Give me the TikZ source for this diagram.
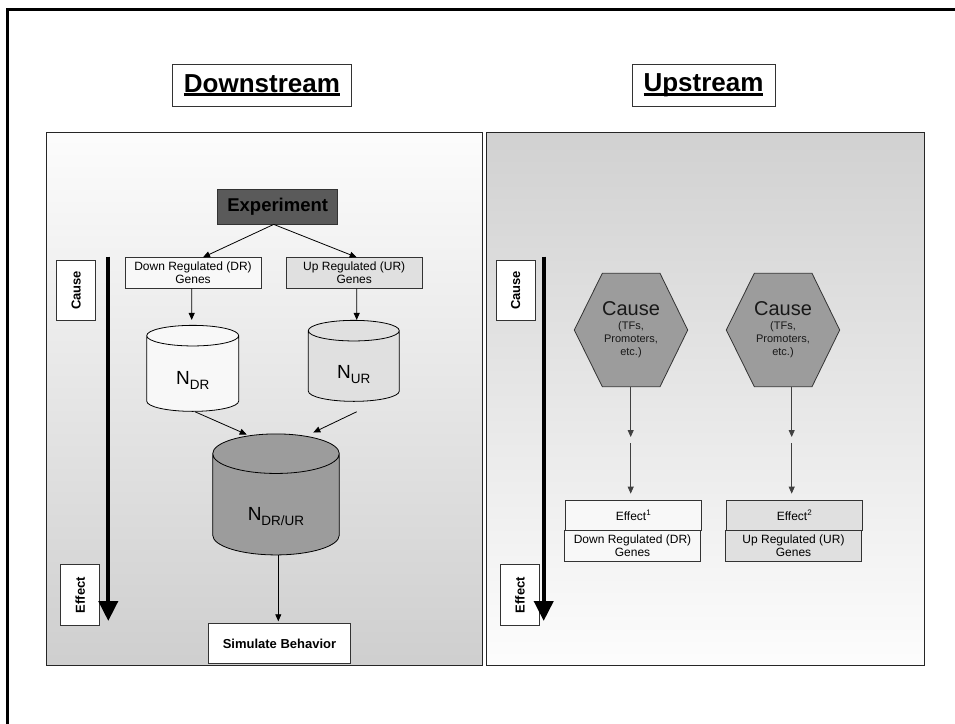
\documentclass[tikz,border=0pt]{standalone}
\usepackage{fontspec}
\setmainfont{Liberation Sans}
\usetikzlibrary{arrows.meta,shapes.geometric,calc}

% heading underline: a heavy rule just under the baseline
\newcommand\headul[1]{\setbox0\hbox{#1}\rlap{\raisebox{-4pt}{\rule{\wd0}{3pt}}}\box0}
% N with a lowered index
\newcommand\netname[1]{N\raisebox{-5pt}{\fontsize{13.5}{14}\selectfont #1}}

\definecolor{expfill}{HTML}{5A5A5A}
\definecolor{midgray}{HTML}{9C9C9C}
\definecolor{lightgray}{HTML}{E0E0E0}
\definecolor{offwhite}{HTML}{F8F8F8}
\definecolor{edge}{HTML}{333333}

\begin{document}
\begin{tikzpicture}[x=1pt,y=-1pt,
  box/.style={draw=edge, line width=0.8pt, inner sep=0pt, align=center},
  genebox/.style={box, minimum width=136pt, minimum height=30.6pt,
    font=\fontsize{12}{13.3}\selectfont},
  sidelabel/.style={box, fill=white, rotate=90, minimum width=60.5pt,
    minimum height=39pt, font=\bfseries\fontsize{13}{14}\selectfont},
  cyl/.style={cylinder, shape border rotate=90, draw=black, line width=0.8pt,
    cylinder uses custom fill, inner sep=0pt, text depth=6pt,
    font=\fontsize{19}{20}\selectfont},
  link/.style={line width=0.8pt, -{Triangle[length=7pt,width=6pt]}},
  hexlink/.style={link, draw=black!75},
  timeline/.style={line width=4pt, -{Triangle[length=20pt,width=19pt]}},
  hexshape/.style={fill=midgray, draw=edge, line width=0.8pt},
  hexnode/.style={inner sep=0pt, minimum width=113.4pt, minimum height=113.4pt,
    align=center, text=black!90, font=\fontsize{11}{13}\selectfont}
]
\useasboundingbox (0,0) rectangle (955,723);
\clip (0,0) rectangle (955,723);
\fill[white] (0,0) rectangle (955,723);

% outer frame
\draw[line width=3pt] (7,9) rectangle (975,745);

% the two panels
\draw[draw=black!85, line width=0.8pt, top color=white!99!black, bottom color=black!19]
  (46.3,132) rectangle (482.5,665.5);
\draw[draw=black!85, line width=0.8pt, top color=black!18, bottom color=white!99!black]
  (486.7,132) rectangle (924.3,665.5);

% headings
\node[box, fill=white, minimum width=179.7pt, minimum height=42pt,
  font=\bfseries\fontsize{26}{28}\selectfont] (down) at (261.9,85.3) {\headul{Downstream}};
\node[box, fill=white, minimum width=143pt, minimum height=42pt,
  font=\bfseries\fontsize{26}{28}\selectfont] (up) at (703.5,85.3) {\headul{Upstream}};

% ---------------- downstream panel ----------------
\node[sidelabel] (causeL) at (76.2,290.3) {Cause};
\node[sidelabel] (effectL) at (80.3,595) {Effect};
\coordinate (tlLtop) at (108.3,256.7);
\coordinate (tlLbot) at (108.3,621);
\draw[timeline] (tlLtop) -- (tlLbot);

\node[box, fill=expfill, minimum width=120pt, minimum height=35pt,
  font=\bfseries\fontsize{18.5}{20}\selectfont] (exp) at (277.7,206.5) {Experiment};

\node[genebox, fill=offwhite] (dr) at (193,273) {Down Regulated (DR)\\Genes};
\node[genebox, fill=lightgray] (ur) at (354.2,273) {Up Regulated (UR)\\Genes};

\node[cyl, cylinder body fill=offwhite, cylinder end fill=offwhite, text height=27pt,
  minimum width=92pt, minimum height=86pt, aspect=0.62] (ndr) at (192.7,373.7) {\netname{DR}};
\node[cyl, cylinder body fill=lightgray, cylinder end fill=lightgray, text height=31pt,
  minimum width=91pt, minimum height=81pt, aspect=0.62] (nur) at (353.8,366.2) {\netname{UR}};
\node[cyl, cylinder body fill=midgray, cylinder end fill=midgray, text height=38pt,
  minimum width=126.6pt, minimum height=121pt, aspect=0.7] (nall) at (276,504.5) {\netname{DR/UR}};

\node[box, fill=white, minimum width=141.6pt, minimum height=39.6pt,
  font=\bfseries\fontsize{13}{14}\selectfont] (sim) at (279.5,643.5) {Simulate Behavior};

\draw[link] ([xshift=-4pt]exp.south) -- ([xshift=10pt]dr.north);
\draw[link] ([xshift=-4pt]exp.south) -- ([xshift=2.5pt]ur.north);
\draw[link, shorten >=5pt] ([xshift=-1.3pt]dr.south) -- ([xshift=-1pt]ndr.north);
\draw[link] ([xshift=2.5pt]ur.south) -- ([xshift=2.9pt]nur.north);
\draw[link] ([xshift=2.3pt]ndr.south) -- ([xshift=-29.3pt,yshift=-1pt]nall.north);
\draw[link] ([xshift=2.9pt,yshift=-10pt]nur.south) -- ([xshift=37.3pt,yshift=1pt]nall.north);
\draw[link] ([xshift=2.3pt]nall.south) -- ([xshift=-1.2pt,yshift=2pt]sim.north);

% ---------------- upstream panel ----------------
\node[sidelabel] (causeR) at (515.7,290.3) {Cause};
\node[sidelabel] (effectR) at (520,595) {Effect};
\coordinate (tlRtop) at (543.7,256.7);
\coordinate (tlRbot) at (543.7,621);
\draw[timeline] (tlRtop) -- (tlRbot);

% hexagonal cause shapes
\foreach \cx in {631,783}{
  \draw[hexshape] (\cx-56.7,330) -- (\cx-28.7,273.3) -- (\cx+29,273.3)
    -- (\cx+56.7,330) -- (\cx+29,386.7) -- (\cx-28.7,386.7) -- cycle;
}
\node[hexnode] (h1) at (631,330)
  {{\fontsize{20}{20}\selectfont Cause}\\[1pt](TFs,\\Promoters,\\etc.)};
\node[hexnode] (h2) at (783,330)
  {{\fontsize{20}{20}\selectfont Cause}\\[1pt](TFs,\\Promoters,\\etc.)};

\node[genebox, fill=offwhite, minimum width=136.4pt, minimum height=30.3pt] (e1) at (633.5,515.2)
  {Effect\textsuperscript{1}};
\node[genebox, fill=offwhite, minimum width=136.4pt, minimum height=30.7pt] (g1) at (632.5,545.7)
  {Down Regulated (DR)\\Genes};
\node[genebox, fill=lightgray, minimum width=136.4pt, minimum height=30.3pt] (e2) at (794.5,515.2)
  {Effect\textsuperscript{2}};
\node[genebox, fill=lightgray, minimum width=136.4pt, minimum height=30.7pt] (g2) at (793.5,545.7)
  {Up Regulated (UR)\\Genes};

\coordinate (m1) at (630.7,440);
\coordinate (m2) at (791.7,440);
\draw[hexlink, shorten >=3pt] ([xshift=-0.3pt]h1.south) -- (m1);
\draw[hexlink, shorten <=3pt, shorten >=6pt] (m1) -- ([xshift=-2.8pt]e1.north);
\draw[hexlink, shorten >=3pt] ([xshift=8.7pt]h2.south) -- (m2);
\draw[hexlink, shorten <=3pt, shorten >=6pt] (m2) -- ([xshift=-2.8pt]e2.north);
\end{tikzpicture}
\end{document}
